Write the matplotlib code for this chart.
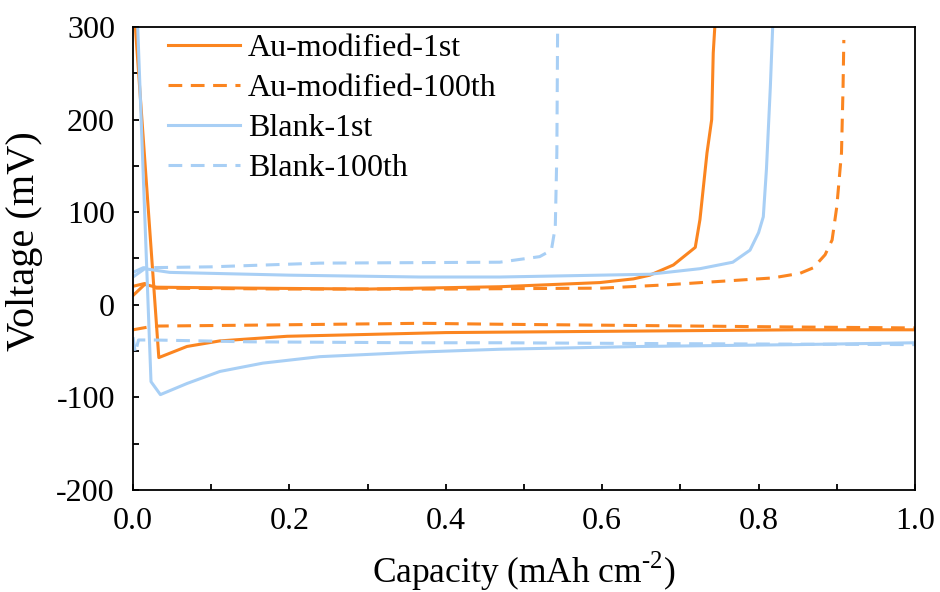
import numpy as np
import matplotlib.pyplot as plt
from matplotlib.ticker import MultipleLocator

plt.rcParams['font.family'] = ['Liberation Serif', 'DejaVu Serif']
plt.rcParams['mathtext.fontset'] = 'custom'
plt.rcParams['mathtext.rm'] = 'Liberation Serif'

orange = '#FB8520'
blue = '#A8CFF5'

# Au-modified-1st : plating branch then stripping branch
au1_plate_x = [0.003, 0.033, 0.069, 0.111, 0.197, 0.30, 0.40, 0.55, 0.70, 0.85, 1.0]
au1_plate_y = [300, -57, -45, -39, -34, -32, -30, -29, -28, -27, -27]
au1_strip_x = [0.0, 0.015, 0.03, 0.15, 0.30, 0.469, 0.597, 0.640, 0.661, 0.691, 0.719,
               0.725, 0.734, 0.740, 0.742, 0.744]
au1_strip_y = [10, 22, 19, 18, 17, 19.5, 24, 28, 32, 43, 62, 92, 164, 200, 272, 300]

# Au-modified-100th
au100_plate_x = [0.0, 0.026, 0.15, 0.367, 0.469, 0.60, 0.725, 0.85, 1.0]
au100_plate_y = [-27, -23, -22, -20, -21, -22, -23, -24, -25]
au100_strip_x = [0.0, 0.015, 0.03, 0.20, 0.40, 0.60, 0.683, 0.818, 0.853, 0.870, 0.885,
                 0.894, 0.900, 0.906, 0.908, 0.909]
au100_strip_y = [20, 23, 18, 17, 17, 18, 21.6, 29, 34, 40, 54, 70, 106, 164, 235, 286]

# Blank-1st
bl1_plate_x = [0.006, 0.023, 0.035, 0.069, 0.111, 0.166, 0.239, 0.367, 0.469, 0.65, 0.85, 1.0]
bl1_plate_y = [300, -83, -97, -85, -72, -63, -56, -51, -48, -45, -43, -41]
bl1_strip_x = [0.0, 0.015, 0.047, 0.20, 0.367, 0.469, 0.661, 0.725, 0.767, 0.789, 0.800,
               0.806, 0.810, 0.815, 0.818]
bl1_strip_y = [30, 39, 35, 32, 30, 30, 33, 39, 46, 59, 78, 95, 146, 235, 300]

# Blank-100th
bl100_plate_x = [0.0, 0.003, 0.007, 0.026, 0.15, 0.367, 0.469, 0.70, 1.0]
bl100_plate_y = [-35, -52, -38, -38, -40, -41, -41, -42, -43]
bl100_strip_x = [0.0, 0.013, 0.10, 0.239, 0.469, 0.520, 0.535, 0.540, 0.542, 0.543]
bl100_strip_y = [35, 40, 41, 45, 46, 52, 59, 84, 164, 300]

fig = plt.figure(figsize=(9.4, 5.92), dpi=100)
ax = fig.add_axes([0.1415, 0.1723, 0.8319, 0.7821])

lw = 2.2
dash = (0, (4.5, 2.8))
ax.plot(au1_plate_x, au1_plate_y, color=orange, lw=lw, label='Au-modified-1st')
ax.plot(au1_strip_x, au1_strip_y, color=orange, lw=lw)
ax.plot(au100_plate_x, au100_plate_y, color=orange, lw=lw, ls=dash, label='Au-modified-100th')
ax.plot(au100_strip_x, au100_strip_y, color=orange, lw=lw, ls=dash)
ax.plot(bl1_plate_x, bl1_plate_y, color=blue, lw=lw, label='Blank-1st')
ax.plot(bl1_strip_x, bl1_strip_y, color=blue, lw=lw)
ax.plot(bl100_plate_x, bl100_plate_y, color=blue, lw=lw, ls=dash, label='Blank-100th')
ax.plot(bl100_strip_x, bl100_strip_y, color=blue, lw=lw, ls=dash)

ax.set_xlim(0, 1.0)
ax.set_ylim(-200, 300)
ax.xaxis.set_major_locator(MultipleLocator(0.2))
ax.xaxis.set_minor_locator(MultipleLocator(0.1))
ax.yaxis.set_major_locator(MultipleLocator(100))
ax.yaxis.set_minor_locator(MultipleLocator(50))
ax.xaxis.set_major_formatter(plt.FuncFormatter(lambda v, p: '%.1f' % v))
ax.yaxis.set_major_formatter(plt.FuncFormatter(lambda v, p: '%d' % v))
ax.tick_params(which='both', direction='in', top=False, right=False, labelsize=23,
               width=1.3, length=4.5)
ax.tick_params(axis='x', which='major', pad=12)
ax.tick_params(axis='y', which='major', pad=13)
for s in ax.spines.values():
    s.set_linewidth(1.3)

ax.set_xlabel('Capacity (mAh cm$^{\\text{-2}}$)', fontsize=25.5, labelpad=10)
ax.set_ylabel('Voltage (mV)', fontsize=29)
ax.yaxis.set_label_coords(-0.115, 0.538)

ax.legend(loc='upper left', bbox_to_anchor=(0.045, 0.985), frameon=False, fontsize=23,
          handlelength=2.25, handletextpad=0.25, labelspacing=0.33, borderpad=0, borderaxespad=0)

plt.savefig('out.png', dpi=100)
